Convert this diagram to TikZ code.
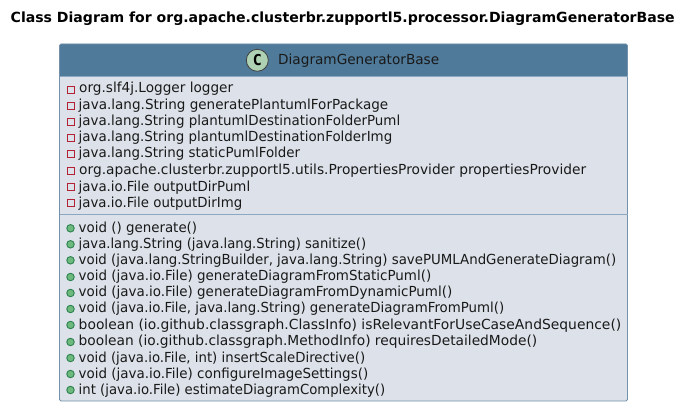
\documentclass[tikz,border=0pt]{standalone}
\usepackage{fontspec}
\setmainfont{DejaVu Sans}
\newfontfamily\badgefont{DejaVu Sans Mono}
\usepackage{xcolor}
\definecolor{umlHead}{RGB}{79,122,153}
\definecolor{umlBody}{RGB}{221,226,234}
\definecolor{umlEdge}{RGB}{115,145,170}
\definecolor{umlLine}{RGB}{140,168,192}
\definecolor{umlRed}{RGB}{178,34,52}
\definecolor{umlGreen}{RGB}{44,130,80}
\definecolor{umlGreenFill}{RGB}{110,185,125}
\definecolor{umlBadge}{RGB}{173,209,178}
\usetikzlibrary{positioning}
% squeeze a text line to the width it has in the picture
\newcommand{\rowfit}[2]{\resizebox{#1pt}{\height}{#2}}

\begin{document}
\begin{tikzpicture}[x=1pt,y=-1pt,
  row/.style={anchor=base west,inner sep=0pt,font=\fontsize{13.85}{16}\selectfont,text=black!90},
  priv/.style={rectangle,draw=umlRed,fill=umlBody,line width=0.9pt,minimum width=7pt,minimum height=7pt,inner sep=0pt},
  publ/.style={circle,draw=umlGreen,fill=umlGreenFill,line width=0.9pt,minimum size=7.5pt,inner sep=0pt}]
  \useasboundingbox (0,0) rectangle (692,414);
  \fill[white] (0,0) rectangle (692,414);
  \node[anchor=base west,inner sep=0pt,font=\fontsize{14}{16}\selectfont\bfseries] (title) at (10.5,22.5) {\rowfit{664}{Class Diagram for org.apache.clusterbr.zupportl5.processor.DiagramGeneratorBase}};
  % class box
  \fill[umlBody,rounded corners=1.5pt] (59.5,44) rectangle (627.5,401);
  \fill[umlHead,rounded corners=1.5pt] (59.5,44) rectangle (627.5,60);
  \fill[umlHead] (59.5,50) rectangle (627.5,76);
  \draw[umlEdge,line width=0.9pt,rounded corners=1.5pt] (59.5,44) rectangle (627.5,401);
  \draw[umlLine,line width=0.9pt] (59.5,76) -- (627.5,76);
  \draw[umlLine,line width=0.9pt] (59.5,214.5) -- (627.5,214.5);
  \node[circle,draw=black!75,fill=umlBadge,line width=0.8pt,minimum size=22pt,inner sep=0pt,font=\fontsize{15}{15}\badgefont\bfseries] (badge) at (257.3,60.3) {C};
  \node[row] (name) at (278,65) {\rowfit{161}{DiagramGeneratorBase}};
  % attributes
  \node[priv] (p1) at (70.5,89.7) {};
  \node[row] (a1) at (79,93) {\rowfit{154}{org.slf4j.Logger logger}};
  \node[priv] (p2) at (70.5,106) {};
  \node[row] (a2) at (78.5,109.7) {\rowfit{309.5}{java.lang.String generatePlantumlForPackage}};
  \node[priv] (p3) at (70.5,122) {};
  \node[row] (a3) at (78.5,126) {\rowfit{321.5}{java.lang.String plantumlDestinationFolderPuml}};
  \node[priv] (p4) at (70.5,138) {};
  \node[row] (a4) at (78.5,142) {\rowfit{313.5}{java.lang.String plantumlDestinationFolderImg}};
  \node[priv] (p5) at (70.5,154) {};
  \node[row] (a5) at (78.5,158) {\rowfit{221.5}{java.lang.String staticPumlFolder}};
  \node[priv] (p6) at (70.5,170.5) {};
  \node[row] (a6) at (79,174.7) {\rowfit{507}{org.apache.clusterbr.zupportl5.utils.PropertiesProvider propertiesProvider}};
  \node[priv] (p7) at (70.5,187) {};
  \node[row] (a7) at (78.5,191.3) {\rowfit{171.5}{java.io.File outputDirPuml}};
  \node[priv] (p8) at (70.5,203) {};
  \node[row] (a8) at (78.5,207) {\rowfit{163.5}{java.io.File outputDirImg}};
  % methods
  \node[publ] (m1) at (70.5,228.3) {};
  \node[row] (b1) at (78.5,232) {\rowfit{118.5}{void () generate()}};
  \node[publ] (m2) at (70.5,244.3) {};
  \node[row] (b2) at (78.5,248) {\rowfit{287.5}{java.lang.String (java.lang.String) sanitize()}};
  \node[publ] (m3) at (70.5,260.3) {};
  \node[row] (b3) at (78.5,264) {\rowfit{537.5}{void (java.lang.StringBuilder, java.lang.String) savePUMLAndGenerateDiagram()}};
  \node[publ] (m4) at (70.5,277) {};
  \node[row] (b4) at (78.5,280.5) {\rowfit{352.5}{void (java.io.File) generateDiagramFromStaticPuml()}};
  \node[publ] (m5) at (70.5,293) {};
  \node[row] (b5) at (78.5,296.5) {\rowfit{373.5}{void (java.io.File) generateDiagramFromDynamicPuml()}};
  \node[publ] (m6) at (70.5,309) {};
  \node[row] (b6) at (78.5,312.5) {\rowfit{425.5}{void (java.io.File, java.lang.String) generateDiagramFromPuml()}};
  \node[publ] (m7) at (70.5,325) {};
  \node[row] (b7) at (78.5,329) {\rowfit{542.5}{boolean (io.github.classgraph.ClassInfo) isRelevantForUseCaseAndSequence()}};
  \node[publ] (m8) at (70.5,342) {};
  \node[row] (b8) at (78.5,345.5) {\rowfit{458.5}{boolean (io.github.classgraph.MethodInfo) requiresDetailedMode()}};
  \node[publ] (m9) at (70.5,358) {};
  \node[row] (b9) at (78.5,362) {\rowfit{286.5}{void (java.io.File, int) insertScaleDirective()}};
  \node[publ] (m10) at (70.5,374) {};
  \node[row] (b10) at (78.5,378) {\rowfit{289.5}{void (java.io.File) configureImageSettings()}};
  \node[publ] (m11) at (70.5,390) {};
  \node[row] (b11) at (78.5,394.5) {\rowfit{306.5}{int (java.io.File) estimateDiagramComplexity()}};
\end{tikzpicture}
\end{document}
